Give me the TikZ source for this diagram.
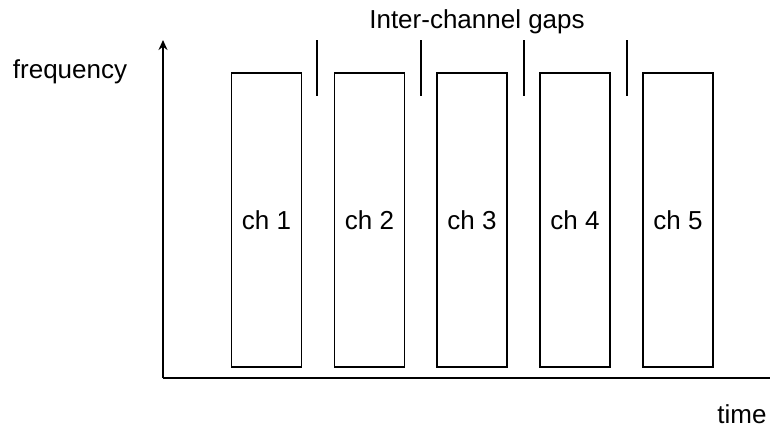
\documentclass[tikz,border=0pt]{standalone}
\usepackage{fontspec}
\setmainfont{Liberation Sans}
\usetikzlibrary{arrows.meta}
\begin{document}
\begin{tikzpicture}[x=0.5pt,y=-0.5pt,
  every node/.style={font=\fontsize{13}{15}\selectfont},
  chan/.style={draw,line width=0.7pt,minimum width=35pt,minimum height=147pt,inner sep=0pt},
  gapline/.style={line width=0.7pt},
  axis/.style={line width=0.7pt}]
\useasboundingbox (0,0) rectangle (771,430);
\coordinate (o) at (163,378);
\coordinate (ytop) at (163,40);
\coordinate (xend) at (770,378);
\draw[axis,-{Stealth[length=5pt,width=4.5pt]}] (o) -- (ytop);
\draw[axis] (o) -- (xend);
\foreach \i/\x in {1/266.5,2/369.5,3/472,4/575,5/678}{
  \node[chan] (c\i) at (\x,220) {ch \i};
}
\foreach \i/\x in {1/317,2/421,3/524,4/627}{
  \coordinate (g\i a) at (\x,40);
  \coordinate (g\i b) at (\x,96);
  \draw[gapline] (g\i a) -- (g\i b);
}
\node (freq) at (70,72) {frequency};
\node (gaps) at (477,22) {Inter-channel gaps};
\node (time) at (742,414) {time};
\end{tikzpicture}
\end{document}
